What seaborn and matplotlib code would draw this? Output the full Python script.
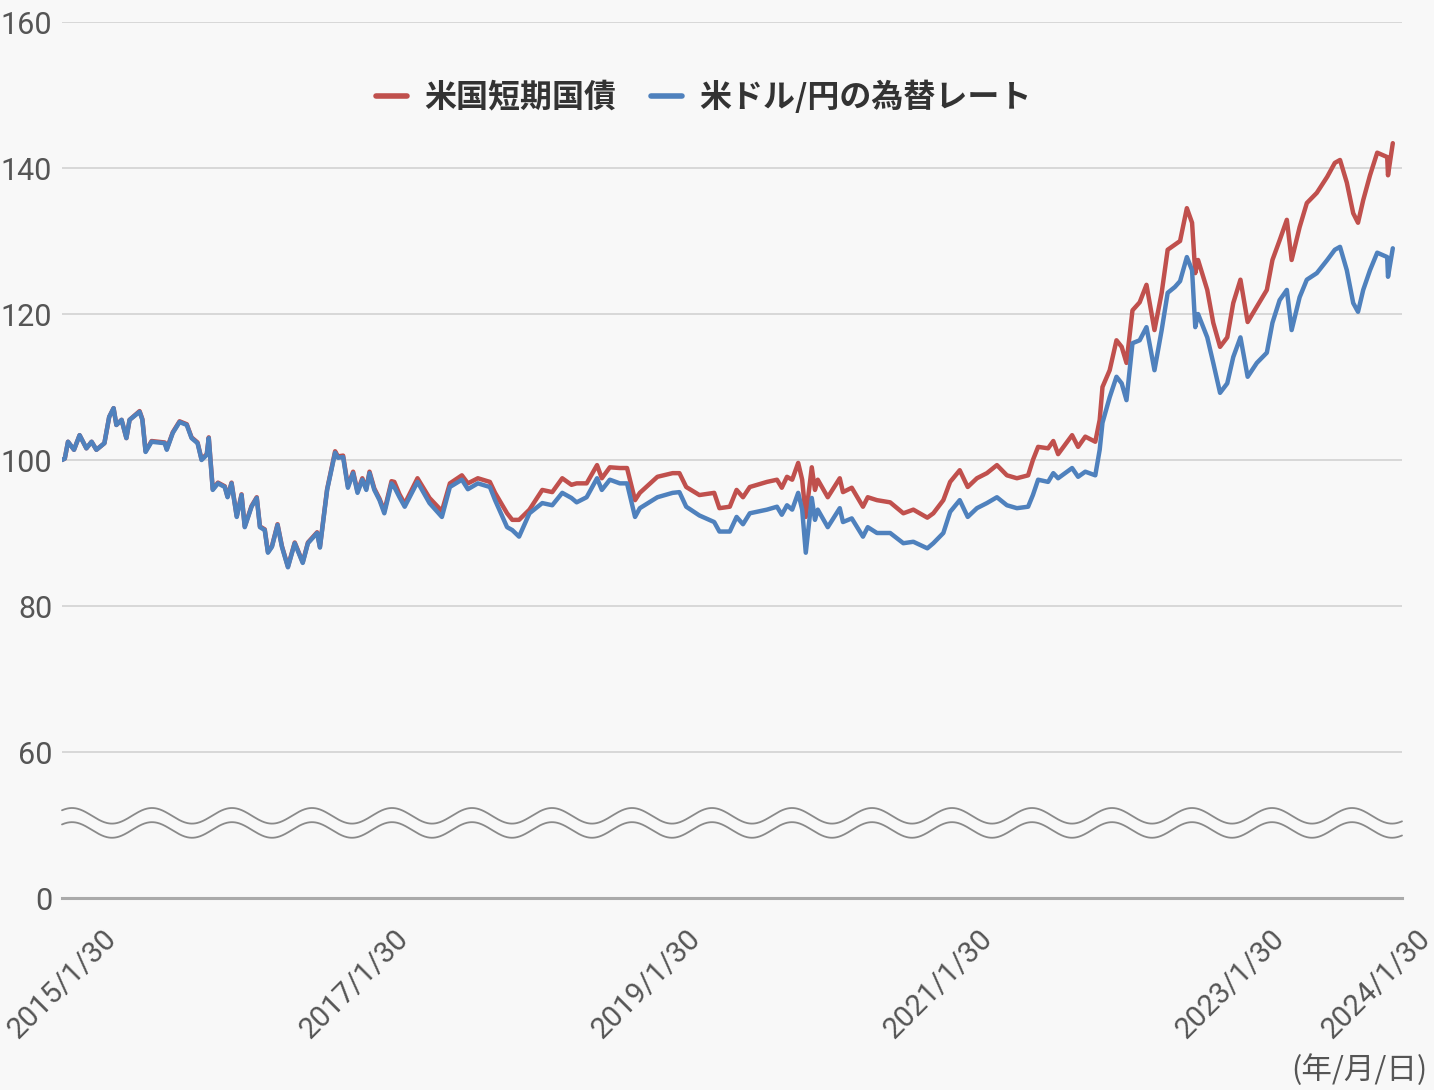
import numpy as np
import pandas as pd
import matplotlib
matplotlib.use("Agg")
import matplotlib.pyplot as plt
import seaborn as sns

# ---------------- data ----------------
dates = [
    "2015-01-30", "2015-02-06", "2015-02-14", "2015-03-01", "2015-03-15", "2015-04-01",
    "2015-04-14", "2015-04-26", "2015-05-16", "2015-05-28", "2015-06-08", "2015-06-15",
    "2015-06-28", "2015-07-10", "2015-07-18", "2015-08-12", "2015-08-19", "2015-08-27",
    "2015-09-11", "2015-10-14", "2015-10-19", "2015-11-03", "2015-11-20", "2015-12-08",
    "2015-12-20", "2016-01-04", "2016-01-14", "2016-01-27", "2016-02-01", "2016-02-11",
    "2016-02-24", "2016-03-12", "2016-03-19", "2016-03-29", "2016-04-11", "2016-04-23",
    "2016-05-01", "2016-05-18", "2016-05-31", "2016-06-08", "2016-06-20", "2016-06-28",
    "2016-07-08", "2016-07-22", "2016-08-02", "2016-08-17", "2016-09-03", "2016-09-23",
    "2016-10-06", "2016-10-29", "2016-11-05", "2016-11-23", "2016-12-13", "2016-12-20",
    "2017-01-02", "2017-01-14", "2017-01-27", "2017-02-07", "2017-02-19", "2017-03-01",
    "2017-03-09", "2017-03-21", "2017-04-03", "2017-04-15", "2017-05-03", "2017-05-10",
    "2017-05-23", "2017-06-05", "2017-07-07", "2017-08-06", "2017-09-06", "2017-09-26",
    "2017-10-26", "2017-11-10", "2017-12-05", "2018-01-04", "2018-01-17", "2018-02-16",
    "2018-03-01", "2018-03-18", "2018-04-13", "2018-05-15", "2018-06-09", "2018-07-04",
    "2018-07-27", "2018-08-09", "2018-09-03", "2018-09-29", "2018-10-11", "2018-10-31",
    "2018-11-25", "2018-12-13", "2019-01-02", "2019-01-14", "2019-02-27", "2019-04-06",
    "2019-04-23", "2019-05-10", "2019-06-12", "2019-07-19", "2019-08-01", "2019-08-27",
    "2019-09-13", "2019-09-29", "2019-10-16", "2019-11-28", "2019-12-23", "2020-01-04",
    "2020-01-17", "2020-01-30", "2020-02-14", "2020-02-24", "2020-03-04", "2020-03-19",
    "2020-03-27", "2020-04-03", "2020-04-28", "2020-05-28", "2020-06-05", "2020-06-27",
    "2020-07-25", "2020-08-06", "2020-08-29", "2020-10-01", "2020-11-03", "2020-11-28",
    "2021-01-02", "2021-01-17", "2021-02-11", "2021-02-28", "2021-03-24", "2021-04-13",
    "2021-05-06", "2021-05-31", "2021-06-25", "2021-07-20", "2021-08-14", "2021-09-11",
    "2021-09-23", "2021-10-06", "2021-10-31", "2021-11-13", "2021-11-25", "2021-12-30",
    "2022-01-14", "2022-02-01", "2022-02-26", "2022-03-09", "2022-03-16", "2022-04-03",
    "2022-04-20", "2022-05-03", "2022-05-15", "2022-05-30", "2022-06-17", "2022-07-04",
    "2022-07-24", "2022-08-11", "2022-08-26", "2022-09-13", "2022-09-26", "2022-10-13",
    "2022-10-26", "2022-11-03", "2022-11-10", "2022-12-03", "2022-12-18", "2023-01-04",
    "2023-01-22", "2023-02-06", "2023-02-24", "2023-03-14", "2023-04-06", "2023-05-01",
    "2023-05-15", "2023-06-02", "2023-06-20", "2023-07-02", "2023-07-22", "2023-08-09",
    "2023-09-03", "2023-09-29", "2023-10-18", "2023-10-31", "2023-11-17", "2023-12-03",
    "2023-12-15", "2023-12-28", "2024-01-14", "2024-02-01", "2024-02-26", "2024-02-28",
    "2024-03-11",
]

usdjpy_rate = [
    100.0, 100.2, 102.5, 101.4, 103.4, 101.6,
    102.5, 101.4, 102.3, 105.9, 107.1, 104.8,
    105.5, 103.0, 105.5, 106.6, 105.5, 101.1,
    102.5, 102.3, 101.4, 103.7, 105.2, 104.8,
    103.0, 102.3, 100.0, 100.7, 103.0, 95.9,
    96.8, 96.3, 94.9, 96.8, 92.2, 95.2,
    90.8, 93.6, 94.8, 90.8, 90.4, 87.3,
    88.1, 91.1, 88.1, 85.3, 88.6, 85.9,
    88.6, 90.0, 88.0, 95.9, 101.0, 100.3,
    100.4, 96.2, 98.2, 95.5, 97.3, 95.9,
    98.2, 95.9, 94.5, 92.7, 96.8, 96.3,
    94.9, 93.6, 97.0, 94.1, 92.2, 96.3,
    97.3, 96.0, 96.8, 96.3, 94.5, 90.8,
    90.4, 89.5, 92.7, 94.1, 93.8, 95.5,
    94.8, 94.2, 94.9, 97.5, 95.9, 97.3,
    96.8, 96.8, 92.2, 93.4, 94.9, 95.5,
    95.6, 93.6, 92.4, 91.5, 90.2, 90.2,
    92.2, 91.2, 92.7, 93.2, 93.6, 92.5,
    93.8, 93.2, 95.5, 93.2, 87.3, 94.8,
    91.8, 93.2, 90.8, 93.4, 91.5, 92.0,
    89.5, 90.8, 90.0, 90.0, 88.6, 88.8,
    87.9, 88.6, 90.0, 92.9, 94.5, 92.2,
    93.4, 94.1, 94.9, 93.8, 93.4, 93.6,
    95.2, 97.3, 97.0, 98.2, 97.5, 98.9,
    97.7, 98.4, 97.9, 101.4, 105.1, 108.6,
    111.4, 110.5, 108.2, 116.0, 116.4, 118.2,
    112.3, 117.8, 122.9, 123.7, 124.5, 127.8,
    126.0, 118.2, 120.0, 116.8, 113.3, 109.2,
    110.5, 114.1, 116.8, 111.4, 113.3, 114.7,
    118.8, 121.9, 123.3, 117.8, 122.3, 124.7,
    125.6, 127.4, 128.8, 129.2, 126.0, 121.5,
    120.3, 123.3, 126.0, 128.4, 127.8, 125.1,
    129.0,
]

us_tbill = [
    100.0, 100.2, 102.5, 101.4, 103.4, 101.6,
    102.5, 101.4, 102.3, 105.9, 107.1, 104.8,
    105.5, 103.0, 105.5, 106.7, 105.6, 101.2,
    102.6, 102.4, 101.5, 103.8, 105.3, 104.9,
    103.1, 102.4, 100.1, 100.8, 103.1, 96.0,
    96.9, 96.4, 95.0, 96.9, 92.3, 95.3,
    90.9, 93.7, 94.9, 90.9, 90.5, 87.4,
    88.2, 91.2, 88.2, 85.4, 88.7, 86.0,
    88.7, 90.1, 88.1, 96.0, 101.2, 100.5,
    100.6, 96.4, 98.4, 95.7, 97.5, 96.1,
    98.4, 96.1, 94.7, 93.0, 97.1, 97.0,
    95.3, 94.0, 97.5, 94.8, 93.0, 96.8,
    97.9, 96.8, 97.5, 97.0, 95.5, 92.7,
    91.8, 91.8, 93.2, 95.9, 95.6, 97.5,
    96.6, 96.8, 96.8, 99.3, 97.5, 99.0,
    98.9, 98.9, 94.5, 95.5, 97.7, 98.2,
    98.2, 96.3, 95.2, 95.5, 93.4, 93.6,
    95.9, 94.9, 96.3, 97.0, 97.3, 96.2,
    97.7, 97.3, 99.6, 97.3, 92.2, 99.0,
    95.9, 97.3, 94.9, 97.5, 95.6, 96.2,
    93.6, 94.9, 94.5, 94.2, 92.7, 93.2,
    92.1, 92.7, 94.5, 97.0, 98.6, 96.3,
    97.5, 98.2, 99.3, 97.9, 97.5, 97.9,
    100.0, 101.8, 101.6, 102.6, 100.8, 103.4,
    101.8, 103.2, 102.5, 105.5, 110.0, 112.3,
    116.4, 115.5, 113.3, 120.5, 121.6, 124.0,
    117.8, 122.9, 128.8, 129.5, 130.0, 134.5,
    132.5, 125.6, 127.4, 123.3, 118.8, 115.5,
    116.8, 121.5, 124.7, 118.9, 121.0, 123.3,
    127.4, 130.1, 132.9, 127.4, 131.9, 135.2,
    136.6, 138.8, 140.7, 141.1, 138.0, 133.8,
    132.5, 135.6, 139.0, 142.1, 141.5, 139.0,
    143.4,
]

series_names = ["米国短期国債", "米ドル/円の為替レート"]
series_colors = ["#c0504d", "#4f81bd"]

ytick_values = [40, 60, 80, 100, 120, 140, 160]
ytick_labels = ["0", "60", "80", "100", "120", "140", "160"]

xtick_dates = ["2015-01-30", "2017-01-30", "2019-01-30", "2021-01-30", "2023-01-30", "2024-01-30"]
xtick_labels = ["2015/1/30", "2017/1/30", "2019/1/30", "2021/1/30", "2023/1/30", "2024/1/30"]

# ---------------- build frame ----------------
d = pd.to_datetime(dates)
df = pd.concat([
    pd.DataFrame({"date": d, "value": us_tbill, "series": series_names[0]}),
    pd.DataFrame({"date": d, "value": usdjpy_rate, "series": series_names[1]}),
], ignore_index=True)

# ---------------- style ----------------
BG = "#f8f8f8"
sns.set_style("white")
plt.rcParams["font.family"] = ["Roboto", "Noto Sans CJK JP", "DejaVu Sans"]
plt.rcParams["axes.facecolor"] = BG
plt.rcParams["figure.facecolor"] = BG

fig = plt.figure(figsize=(14.34, 10.90), dpi=100)
ax = fig.add_axes([62 / 1434, 192 / 1090, 1340 / 1434, 876 / 1090])
ax.set_facecolor(BG)

sns.lineplot(data=df, x="date", y="value", hue="series", hue_order=series_names,
             palette=series_colors, linewidth=3.2, ax=ax, estimator=None,
             sort=False, legend=True)

# axes range / ticks
ax.set_ylim(40, 160)
ax.set_xlim(pd.Timestamp("2015-01-30"), pd.Timestamp("2024-04-03"))
ax.set_yticks(ytick_values)
ax.set_yticklabels(ytick_labels)
ax.set_xticks(pd.to_datetime(xtick_dates))
ax.set_xticklabels(xtick_labels, rotation=45, ha="center", va="top")
ax.set_xlabel("")
ax.set_ylabel("")

ax.tick_params(axis="y", length=0, pad=7, labelsize=22, labelcolor="#555555")
ax.tick_params(axis="x", length=5, width=1.2, color="#aaaaaa", direction="out",
               pad=14, labelsize=21.3, labelcolor="#555555")

# gridlines
for v in ytick_values[1:]:
    ax.axhline(v, color="#d2d2d2", linewidth=1.2, zorder=0)

for s in ["top", "right", "left"]:
    ax.spines[s].set_visible(False)
ax.spines["bottom"].set_color("#aaaaaa")
ax.spines["bottom"].set_linewidth(2.2)

# wavy axis-break marks (decoration)
xw = np.linspace(0, 1, 2000)
xpx = xw * 1340 + 62
amp = 7.8 / 7.3
phase = 2 * np.pi * (xpx - 72) / 80
ax.plot(xw, 51.26 + amp * np.cos(phase), color="#8a8a8a", lw=1.3,
        transform=ax.get_yaxis_transform(), clip_on=False, zorder=1)
ax.plot(xw, 49.32 + amp * np.cos(phase), color="#8a8a8a", lw=1.3,
        transform=ax.get_yaxis_transform(), clip_on=False, zorder=1)

# legend
handles, labels = ax.get_legend_handles_labels()
for h in handles:
    h.set_linewidth(4)
leg = ax.legend(handles, labels, loc="center", bbox_to_anchor=(0.491, 0.911),
                bbox_transform=fig.transFigure, ncol=2, frameon=False,
                handlelength=0.95, handletextpad=0.55, columnspacing=1.1,
                prop={"family": ["Noto Sans CJK JP", "DejaVu Sans"], "weight": "bold", "size": 23})
for t in leg.get_texts():
    t.set_color("#333333")

fig.text(1428 / 1434, (1090 - 1070) / 1090, "(年/月/日)", ha="right", va="center",
         fontsize=22, color="#555555", family=["Noto Sans CJK JP", "DejaVu Sans"])

fig.savefig("out.png", dpi=100, facecolor=BG)
